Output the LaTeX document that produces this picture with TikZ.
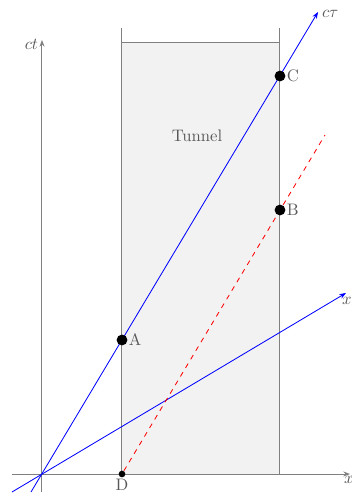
\documentclass[tikz,border=0pt]{standalone}
\usetikzlibrary{arrows.meta}
\begin{document}
\begin{tikzpicture}[x=0.6pt,y=-0.6pt,
  axis/.style={draw=gray,line width=0.6pt},
  wall/.style={draw=gray,line width=0.6pt},
  boost/.style={draw=blue,line width=0.5pt},
  dot/.style={circle,fill=black,inner sep=0pt,minimum size=6.5pt},
  smalldot/.style={circle,fill=black,inner sep=0pt,minimum size=4pt},
  lbl/.style={text=gray!70!black,font=\normalsize}]
\useasboundingbox (0,0) rectangle (352,494);
% tunnel
\fill[gray!10] (122,42) rectangle (280,474);
\coordinate (TL) at (122,28);
\coordinate (TR) at (280,28);
\coordinate (TLb) at (122,474);
\coordinate (TRb) at (280,474);
\draw[wall] (TL) -- (TLb);
\draw[wall] (TR) -- (TRb);
\draw[wall] (122,42) -- (280,42);
\node[lbl] (tun) at (197,136) {Tunnel};
% axes
\coordinate (O) at (42,474);
\coordinate (xs) at (12,474);
\coordinate (xe) at (350,474);
\coordinate (ts) at (42,492);
\coordinate (te) at (42,40);
\draw[axis,-{Stealth[length=4pt,width=3pt]}] (xs) -- (xe);
\draw[axis,-{Stealth[length=4pt,width=3pt]}] (ts) -- (te);
\node[lbl,anchor=north,inner sep=0.5pt] (xl) at (349,475) {$x$};
\node[lbl,anchor=east,inner sep=1pt] (tl) at (40,44) {$ct$};
% boosted axes
\coordinate (cs) at (31,492);
\coordinate (ce) at (318,12);
\coordinate (ps) at (12,492);
\coordinate (pe) at (346,293);
\draw[boost,-{Stealth[length=4pt,width=3pt]}] (cs) -- (ce);
\draw[boost,-{Stealth[length=4pt,width=3pt]}] (ps) -- (pe);
\node[lbl,anchor=west,inner sep=1pt] (cl) at (320,14) {$c\tau$};
\node[lbl,anchor=north,inner sep=1pt] (pl) at (347,295) {$x$};
% red dashed
\node[smalldot] (D) at (122,474) {};
\coordinate (re) at (325,135);
\draw[red,dashed,line width=0.5pt] (D) -- (re);
% events
\node[dot] (A) at (122,340) {};
\node[dot] (B) at (280,210) {};
\node[dot] (C) at (280,76) {};
\node[lbl,anchor=west,inner sep=0.5pt] at (A.east) {A};
\node[lbl,anchor=west,inner sep=0.5pt] at (B.east) {B};
\node[lbl,anchor=west,inner sep=0.5pt] at (C.east) {C};
\node[lbl,anchor=north,inner sep=0.5pt] at (D.south) {D};
\end{tikzpicture}
\end{document}
